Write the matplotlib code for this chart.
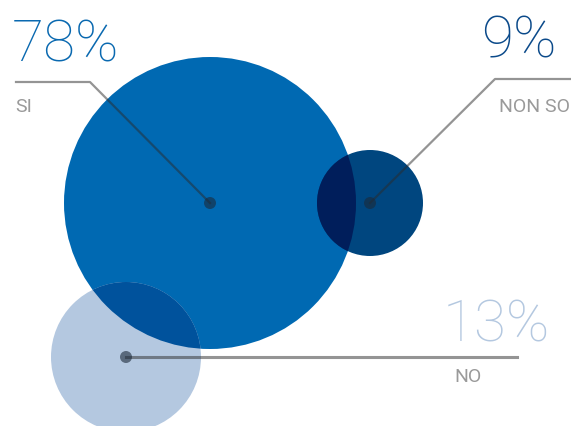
import matplotlib.pyplot as plt
from matplotlib.patches import Circle

labels = ['SI', 'NON SO', 'NO']
values = [78, 9, 13]

# bubble layout (pixel units)
cx = [210, 370, 126]
cy = [204, 204, 358]
radius = [146, 53, 75]
colors = ['#0069b2', '#00467f', '#b4c8e0']
text_colors = ['#0a69b0', '#0b4a8a', '#b4c8e0']
overlap_big_dark = '#001e5b'
overlap_big_light = '#00529c'

plt.rcParams['font.family'] = ['Roboto', 'DejaVu Sans']

fig = plt.figure(figsize=(5.71, 4.27), dpi=100)
ax = fig.add_axes([0, 0, 1, 1])
ax.set_xlim(0, 571)
ax.set_ylim(427, 0)
ax.set_aspect('equal')
ax.axis('off')

circles = []
for i in range(3):
    c = Circle((cx[i], cy[i]), radius[i], color=colors[i], lw=0, zorder=1)
    ax.add_patch(c)
    circles.append(c)

# darker overlaps
ov = Circle((cx[1], cy[1]), radius[1], color=overlap_big_dark, lw=0, zorder=2)
ax.add_patch(ov)
ov.set_clip_path(circles[0])
ov2 = Circle((cx[2], cy[2]), radius[2], color=overlap_big_light, lw=0, zorder=2)
ax.add_patch(ov2)
ov2.set_clip_path(circles[0])

# leader lines
line_col = '#2b2b2b'
ax.plot([16, 90, cx[0]], [83, 83, cy[0]], color=line_col, alpha=0.5, lw=1.6, zorder=3)
ax.plot([cx[1], 495, 571], [cy[1], 80, 80], color=line_col, alpha=0.5, lw=1.6, zorder=3)
ax.plot([cx[2], 517], [cy[2], 358], color=line_col, alpha=0.5, lw=2.2, zorder=3)
for i in range(3):
    ax.add_patch(Circle((cx[i], cy[i]), 6, color='#1c2a3a', alpha=0.6, lw=0, zorder=4))

# percentages and labels
pct_kw = dict(fontsize=42, fontweight='light', va='baseline')
lab_kw = dict(color='#9a9a9a', fontsize=14, fontweight='normal', va='baseline')
ax.text(12, 62, f'{values[0]}%', color=text_colors[0], ha='left', **pct_kw)
ax.text(15, 112, labels[0], ha='left', **lab_kw)
ax.text(557, 58, f'{values[1]}%', color=text_colors[1], ha='right', **pct_kw)
ax.text(570, 112, labels[1], ha='right', **lab_kw)
ax.text(550, 342, f'{values[2]}%', color=text_colors[2], ha='right', **pct_kw)
ax.text(454, 382, labels[2], ha='left', **lab_kw)

fig.savefig('out.png', dpi=100)
